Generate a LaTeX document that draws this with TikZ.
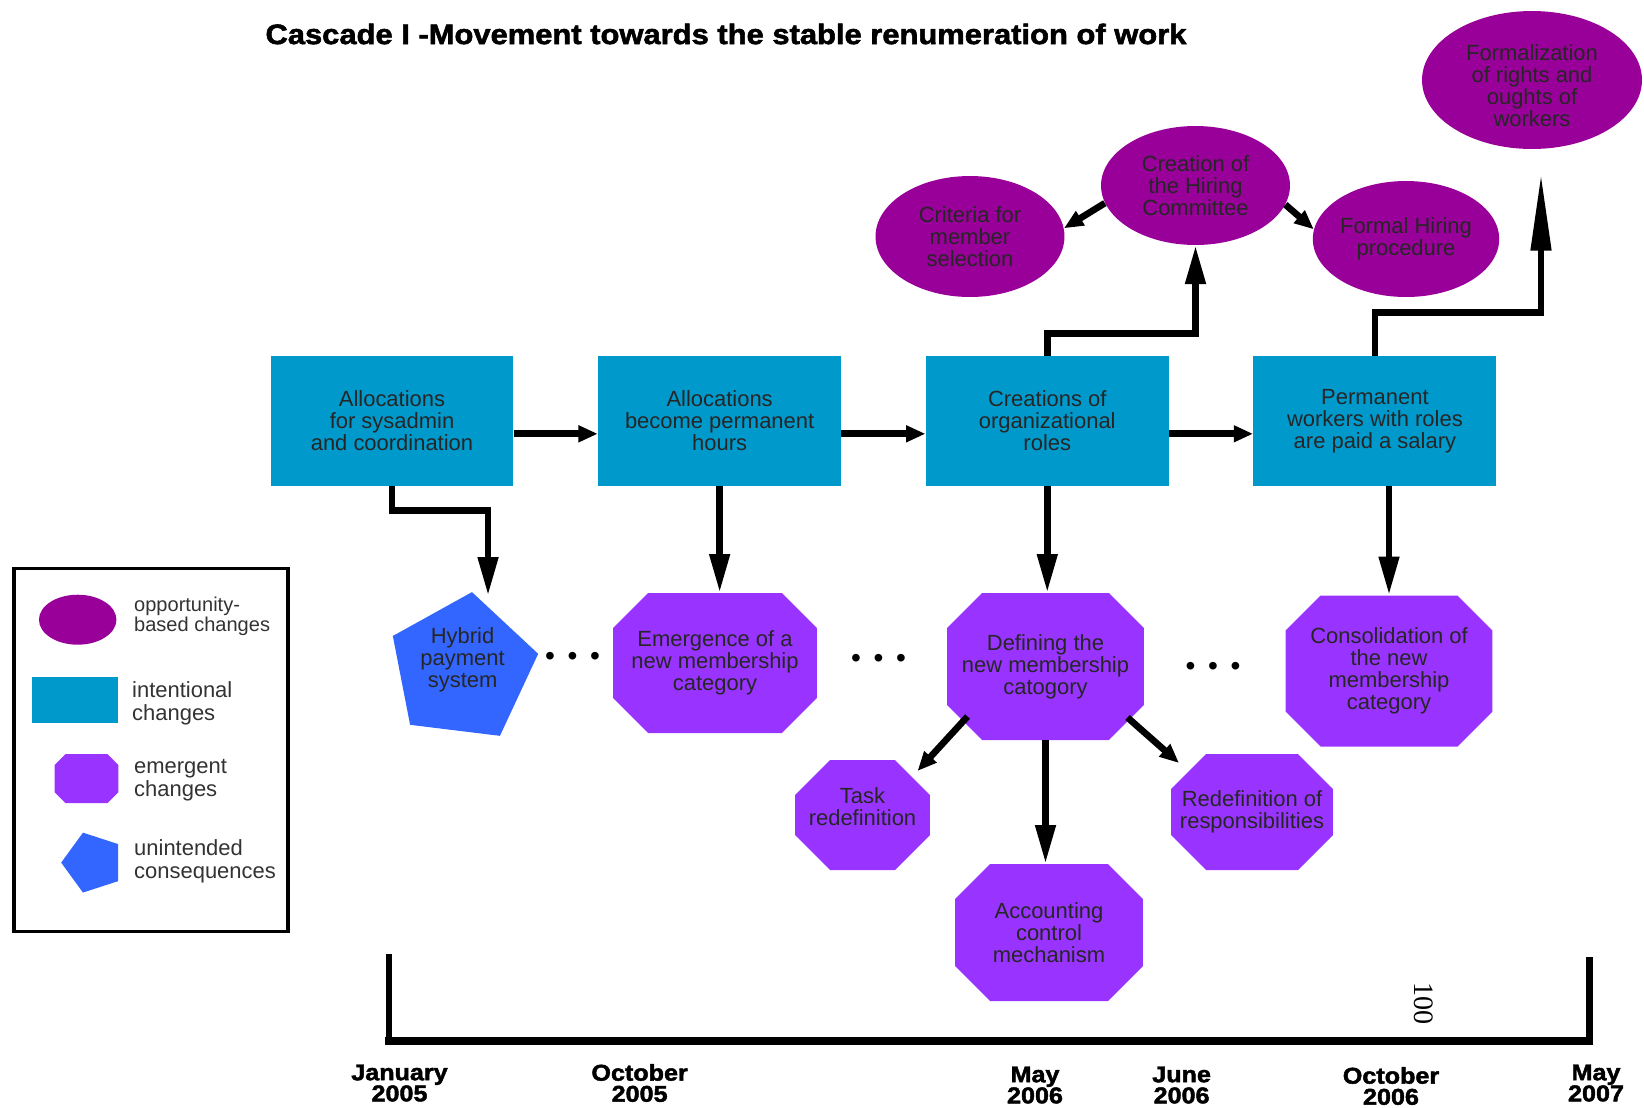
\documentclass[tikz,border=0pt]{standalone}
\usepackage{fontspec}
\setmainfont{Liberation Sans}
\newfontfamily\headfont[FakeStretch=1.1, FakeBold=2]{Liberation Sans}
\newfontfamily\numfont{Liberation Serif}
\usepackage{tikz}
\usetikzlibrary{shapes,arrows.meta,positioning,calc}

\definecolor{intentblue}{HTML}{0099CC}
\definecolor{emergeviolet}{HTML}{9933FF}
\definecolor{opportmagenta}{HTML}{990099}
\definecolor{unintblue}{HTML}{3366FF}
\newcommand{\boxfont}{\fontsize{12.5}{12.5}\selectfont}
\newcommand{\chamf}{0.7cm}

\begin{document}
\begin{tikzpicture}[
    x=0.02cm, y=-0.02cm,
    node distance=1.68cm,
    intent/.style={rectangle, fill=intentblue, inner sep=0pt, minimum width=4.86cm, minimum height=2.6cm, align=center, font=\boxfont, text=black!85},
    chamfer/.code={\renewcommand{\chamf}{#1}},
    emerge/.style={rectangle, inner sep=0pt, align=center, font=\boxfont, text=black!85,
        path picture={\fill[emergeviolet]
            ([xshift=\chamf]path picture bounding box.north west) -- ([xshift=-\chamf]path picture bounding box.north east)
            -- ([yshift=-\chamf]path picture bounding box.north east) -- ([yshift=\chamf]path picture bounding box.south east)
            -- ([xshift=-\chamf]path picture bounding box.south east) -- ([xshift=\chamf]path picture bounding box.south west)
            -- ([yshift=\chamf]path picture bounding box.south west) -- ([yshift=-\chamf]path picture bounding box.north west) -- cycle;}},
    raised/.style={label={[align=center, font=\boxfont, text=black!85, yshift=0.17cm]center:{#1}}},
    lowered/.style={label={[align=center, font=\boxfont, text=black!85, yshift=-0.12cm]center:{#1}}},
    opport/.style={ellipse, fill=opportmagenta, inner sep=0pt, align=center, font=\boxfont, text=black!85},
    unint/.style={regular polygon, regular polygon sides=5, fill=unintblue, inner sep=0pt, align=center, font=\boxfont, text=black!85},
    legtext/.style={anchor=west, align=left, text=black!80, font=\fontsize{12.5}{13}\selectfont},
    datelabel/.style={align=center, font=\headfont\bfseries\fontsize{13}{12}\selectfont},
    dots/.style={font=\fontsize{16}{16}\selectfont, inner sep=0pt},
    arrow/.style={-{Triangle[length=11pt, width=9pt]}, line width=3.8pt},
    longarrow/.style={-{Triangle[length=22pt, width=11pt]}, line width=3.8pt},
]
    \useasboundingbox (0,0) rectangle (1644,1107);

    \node[font=\headfont\bfseries\fontsize{16}{16}\selectfont] (title) at (726,34) {Cascade I -Movement towards the stable renumeration of work};

    % intentional changes
    \node[intent] (alloc) at (392,421) {Allocations\\for sysadmin\\and coordination};
    \node[intent, right=of alloc] (perm) {Allocations\\become permanent\\hours};
    \node[intent, right=of perm] (roles) {Creations of\\organizational\\roles};
    \node[intent, right=of roles] (salary) {Permanent\\workers with roles\\are paid a salary};

    % emergent changes
    \node[emerge, minimum width=4.08cm, minimum height=2.8cm] (newcat) at (715,663) {Emergence of a\\new membership\\category};
    \node[emerge, minimum width=3.94cm, minimum height=2.94cm] (defcat) at (1045.5,666.5) {Defining the\\new membership\\catogory};
    \node[emerge, minimum width=4.14cm, minimum height=3.02cm] (conscat) at (1389,671) {Consolidation of\\the new\\membership\\category};
    \node[emerge, raised={Task\\redefinition}, minimum width=2.7cm, minimum height=2.2cm] (task) at (862.5,815) {};
    \node[emerge, minimum width=3.76cm, minimum height=2.74cm] (acct) at (1049,932.5) {Accounting\\control\\mechanism};
    \node[emerge, minimum width=3.24cm, minimum height=2.32cm] (resp) at (1252,812) {Redefinition of\\responsibilities};

    % opportunity-based changes
    \node[opport, minimum width=3.78cm, minimum height=2.42cm] (crit) at (970,236.5) {Criteria for\\member\\selection};
    \node[opport, minimum width=3.78cm, minimum height=2.38cm] (hire) at (1195.5,185.5) {Creation of\\the Hiring\\Committee};
    \node[opport, minimum width=3.56cm, minimum height=2.32cm] (formal) at (1406,239) {Formal Hiring\\procedure};
    \node[opport, lowered={Formalization\\of rights and\\oughts of\\workers}, minimum width=4.4cm, minimum height=2.76cm] (rights) at (1532,80) {};

    % unintended consequence
    \node[unint, raised={Hybrid\\payment\\system}, minimum size=3.08cm, shape border rotate=-7] (hybrid) at (462.6,668.5) {};

    \node[dots] (gap1) at (572.5,658.5) {\textbullet\hspace{7.2pt}\textbullet\hspace{7.2pt}\textbullet};
    \node[dots] (gap2) at (878.6,660.5) {\textbullet\hspace{7.2pt}\textbullet\hspace{7.2pt}\textbullet};
    \node[dots] (gap3) at (1213,669) {\textbullet\hspace{7.2pt}\textbullet\hspace{7.2pt}\textbullet};

    \draw[arrow] (alloc.-6) -- (perm.186);
    \draw[arrow] (perm.-6) -- (roles.186);
    \draw[arrow] (roles.-6) -- (salary.186);

    \draw[longarrow] (alloc.south) -- ++(0,24) -| ([xshift=0.32cm, yshift=-0.08cm]hybrid.corner 1);
    \draw[longarrow] (perm.south) -- (perm.south |- newcat.north);
    \draw[longarrow] (roles.south) -- (roles.south |- defcat.north);
    \draw[longarrow] (salary.south -| conscat.north) -- (conscat.north);
    \draw[arrow] ($(defcat.center)+(-78,50)$) -- ($(task.center)+(55,-44)$);
    \draw[longarrow] (defcat.south) -- (defcat.south |- acct.north);
    \draw[arrow] ($(defcat.center)+(82,51)$) -- ($(resp.center)+(-73,-49)$);

    \draw[longarrow] (roles.north) -- ++(0,-22) -| (hire.south);
    \draw[arrow] (hire.191) -- (crit.5);
    \draw[arrow] (hire.-12) -- (formal.174);
    \draw[arrow, -{Triangle[length=44pt, width=11pt]}] (salary.north) -- ++(0,-43) -| ([xshift=0.18cm, yshift=-0.48cm]rights.south);

    % time line
    \coordinate (tl0) at (389,954);
    \coordinate (tl1) at (389,1041);
    \coordinate (tl2) at (1589.5,1041);
    \coordinate (tl3) at (1589.5,957);
    \draw[line width=3.5pt] (tl0) -- (tl1);
    \draw[line width=3.5pt] (tl3) -- (tl2);
    \draw[line width=4.5pt, line cap=rect] (tl1) -- (tl2);

    \node[datelabel] (jan05) at (399.5,1083) {January\\2005};
    \node[datelabel] (oct05) at (639.6,1083) {October\\2005};
    \node[datelabel] (may06) at (1035,1085) {May\\2006};
    \node[datelabel] (jun06) at (1181.6,1085) {June\\2006};
    \node[datelabel] (oct06) at (1391,1086) {October\\2006};
    \node[datelabel] (may07) at (1596,1083) {May\\2007};

    \node[rotate=-90, font=\numfont\fontsize{16}{16}\selectfont] (pagenum) at (1424,1003.5) {100};

    % legend
    \node[draw, line width=1.8pt, minimum width=5.48cm, minimum height=7.26cm, inner sep=0pt] (legend) at (151,750) {};
    \node[opport, minimum width=1.55cm, minimum height=1.0cm] (legopp) at (77.7,619.7) {};
    \node[intent, minimum width=1.74cm, minimum height=0.92cm] (legint) at (75,700) {};
    \node[emerge, chamfer=0.22cm, minimum width=1.28cm, minimum height=0.98cm] (legemg) at (86.5,778.5) {};
    \node[unint, minimum size=1.26cm, shape border rotate=18] (legunint) at (92.7,862.6) {};
    \node[legtext, font=\fontsize{11.4}{11.3}\selectfont] (legopptext) at (128,616) {opportunity-\\based changes};
    \node[legtext] (leginttext) at (126,703.5) {intentional\\changes};
    \node[legtext] (legemgtext) at (128,780) {emergent\\changes};
    \node[legtext] (legunintext) at (128,861.5) {unintended\\consequences};
\end{tikzpicture}
\end{document}
